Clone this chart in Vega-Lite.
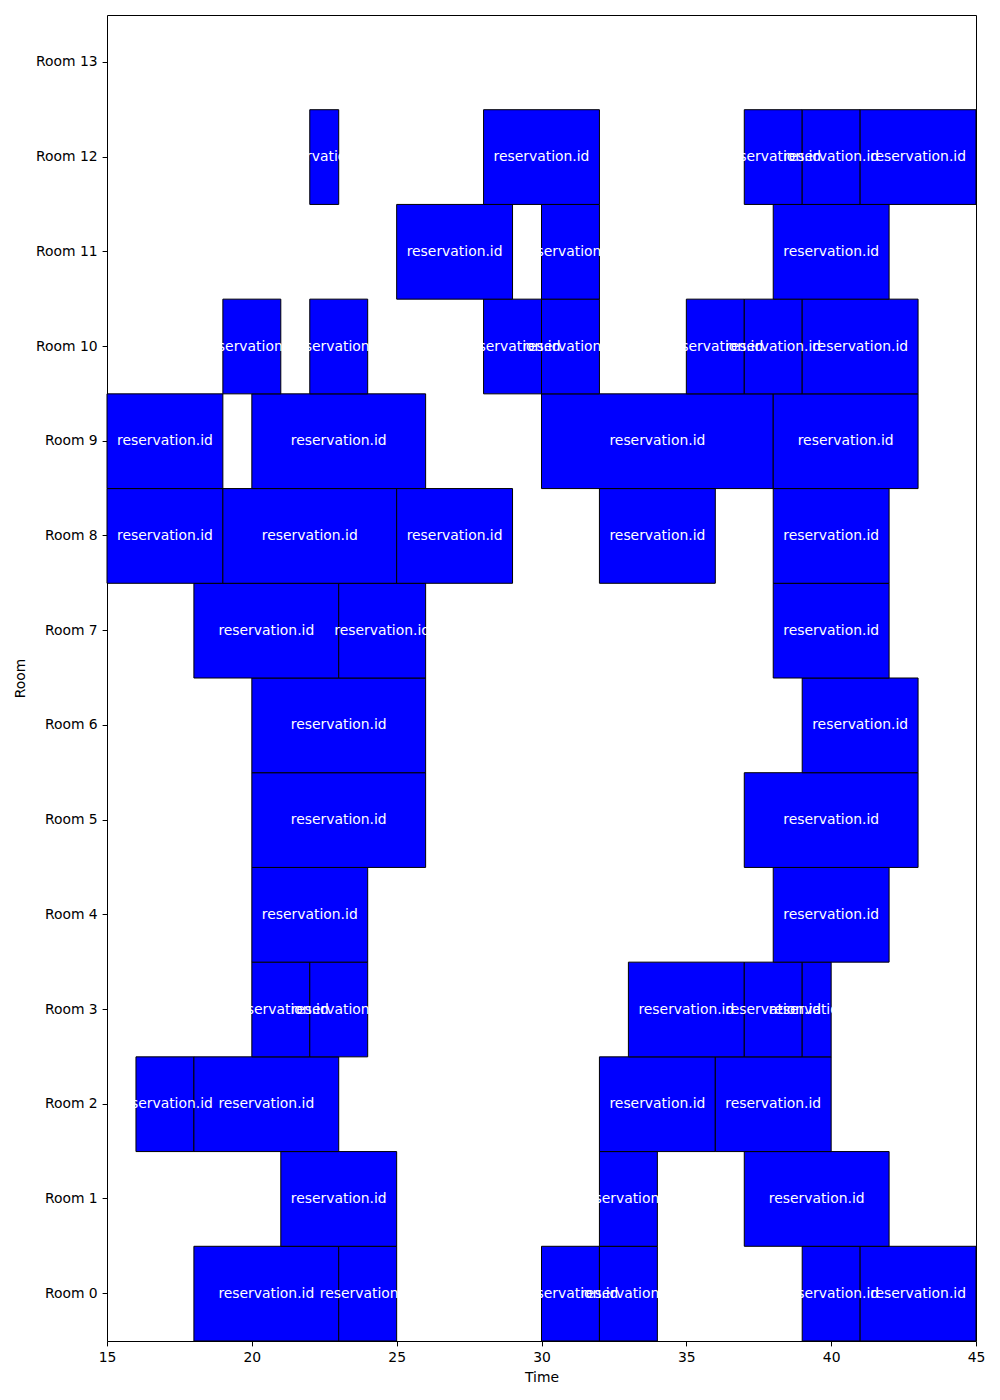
{
  "$schema": "https://vega.github.io/schema/vega-lite/v6.json",
  "width": 869,
  "height": 1326,
  "autosize": "none",
  "padding": {"left": 107, "top": 15, "right": 24, "bottom": 59},
  "background": "white",
  "config": {
    "view": {"stroke": "black", "strokeWidth": 1},
    "font": "DejaVu Sans",
    "axis": {
      "grid": false,
      "domain": false,
      "labelFont": "DejaVu Sans",
      "labelFontSize": 13.9,
      "labelColor": "black",
      "labelFlush": false,
      "labelOverlap": false,
      "tickColor": "black",
      "tickSize": 4.9,
      "labelPadding": 4.9,
      "titleFont": "DejaVu Sans",
      "titleFontSize": 13.9,
      "titleFontWeight": "normal",
      "titleColor": "black"
    }
  },
  "data": {
    "values": [
      {"room": 0, "start": 18, "end": 23, "label": "reservation.id"},
      {"room": 0, "start": 23, "end": 25, "label": "reservation.id"},
      {"room": 0, "start": 30, "end": 32, "label": "reservation.id"},
      {"room": 0, "start": 32, "end": 34, "label": "reservation.id"},
      {"room": 0, "start": 39, "end": 41, "label": "reservation.id"},
      {"room": 0, "start": 41, "end": 45, "label": "reservation.id"},
      {"room": 1, "start": 21, "end": 25, "label": "reservation.id"},
      {"room": 1, "start": 32, "end": 34, "label": "reservation.id"},
      {"room": 1, "start": 37, "end": 42, "label": "reservation.id"},
      {"room": 2, "start": 16, "end": 18, "label": "reservation.id"},
      {"room": 2, "start": 18, "end": 23, "label": "reservation.id"},
      {"room": 2, "start": 32, "end": 36, "label": "reservation.id"},
      {"room": 2, "start": 36, "end": 40, "label": "reservation.id"},
      {"room": 3, "start": 20, "end": 22, "label": "reservation.id"},
      {"room": 3, "start": 22, "end": 24, "label": "reservation.id"},
      {"room": 3, "start": 33, "end": 37, "label": "reservation.id"},
      {"room": 3, "start": 37, "end": 39, "label": "reservation.id"},
      {"room": 3, "start": 39, "end": 40, "label": "reservation.id"},
      {"room": 4, "start": 20, "end": 24, "label": "reservation.id"},
      {"room": 4, "start": 38, "end": 42, "label": "reservation.id"},
      {"room": 5, "start": 20, "end": 26, "label": "reservation.id"},
      {"room": 5, "start": 37, "end": 43, "label": "reservation.id"},
      {"room": 6, "start": 20, "end": 26, "label": "reservation.id"},
      {"room": 6, "start": 39, "end": 43, "label": "reservation.id"},
      {"room": 7, "start": 18, "end": 23, "label": "reservation.id"},
      {"room": 7, "start": 23, "end": 26, "label": "reservation.id"},
      {"room": 7, "start": 38, "end": 42, "label": "reservation.id"},
      {"room": 8, "start": 15, "end": 19, "label": "reservation.id"},
      {"room": 8, "start": 19, "end": 25, "label": "reservation.id"},
      {"room": 8, "start": 25, "end": 29, "label": "reservation.id"},
      {"room": 8, "start": 32, "end": 36, "label": "reservation.id"},
      {"room": 8, "start": 38, "end": 42, "label": "reservation.id"},
      {"room": 9, "start": 15, "end": 19, "label": "reservation.id"},
      {"room": 9, "start": 20, "end": 26, "label": "reservation.id"},
      {"room": 9, "start": 30, "end": 38, "label": "reservation.id"},
      {"room": 9, "start": 38, "end": 43, "label": "reservation.id"},
      {"room": 10, "start": 19, "end": 21, "label": "reservation.id"},
      {"room": 10, "start": 22, "end": 24, "label": "reservation.id"},
      {"room": 10, "start": 28, "end": 30, "label": "reservation.id"},
      {"room": 10, "start": 30, "end": 32, "label": "reservation.id"},
      {"room": 10, "start": 35, "end": 37, "label": "reservation.id"},
      {"room": 10, "start": 37, "end": 39, "label": "reservation.id"},
      {"room": 10, "start": 39, "end": 43, "label": "reservation.id"},
      {"room": 11, "start": 25, "end": 29, "label": "reservation.id"},
      {"room": 11, "start": 30, "end": 32, "label": "reservation.id"},
      {"room": 11, "start": 38, "end": 42, "label": "reservation.id"},
      {"room": 12, "start": 22, "end": 23, "label": "reservation.id"},
      {"room": 12, "start": 28, "end": 32, "label": "reservation.id"},
      {"room": 12, "start": 37, "end": 39, "label": "reservation.id"},
      {"room": 12, "start": 39, "end": 41, "label": "reservation.id"},
      {"room": 12, "start": 41, "end": 45, "label": "reservation.id"}
    ]
  },
  "layer": [
    {
      "mark": {"type": "bar", "fill": "#0000ff", "stroke": "black", "strokeWidth": 1, "cornerRadius": 0},
      "encoding": {
        "x": {
          "field": "start",
          "type": "quantitative",
          "scale": {"domain": [15, 45], "nice": false, "zero": false},
          "axis": {"values": [15, 20, 25, 30, 35, 40, 45], "title": "Time", "titlePadding": 6}
        },
        "x2": {"field": "end"},
        "y": {
          "field": "room",
          "type": "ordinal",
          "scale": {"domain": [13, 12, 11, 10, 9, 8, 7, 6, 5, 4, 3, 2, 1, 0], "paddingInner": 0, "paddingOuter": 0},
          "axis": {"labelExpr": "'Room ' + datum.value", "title": "Room", "titlePadding": 8}
        }
      }
    },
    {
      "transform": [
        {"fold": ["start", "end"], "as": ["edge", "t"]}
      ],
      "mark": {"type": "text", "color": "white", "fontSize": 13.9, "font": "DejaVu Sans", "align": "center", "baseline": "middle"},
      "encoding": {
        "x": {"aggregate": "mean", "field": "t", "type": "quantitative"},
        "y": {"field": "room", "type": "ordinal"},
        "detail": {"field": "start", "type": "quantitative"},
        "text": {"field": "label", "type": "nominal"}
      }
    }
  ]
}
